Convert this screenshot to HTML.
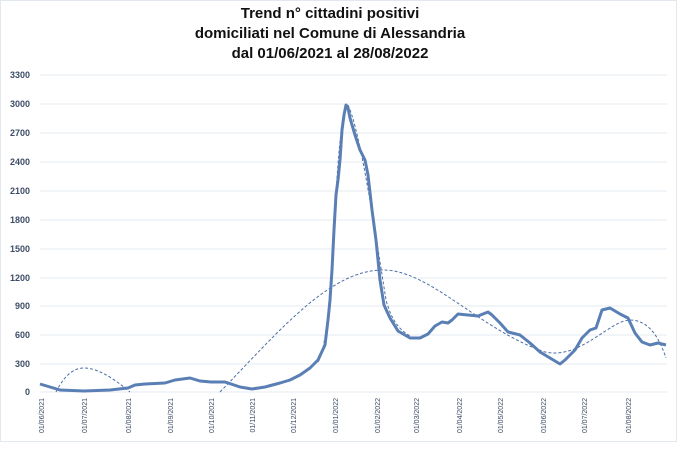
<!DOCTYPE html>
<html><head><meta charset="utf-8"><style>
body{margin:0;background:#fff;width:680px;height:447px;overflow:hidden;font-family:"Liberation Sans",sans-serif}
</style></head><body>
<svg width="680" height="447" xmlns="http://www.w3.org/2000/svg">
<rect x="0.5" y="0.5" width="676" height="441" fill="#fff" stroke="#e3e8ef"/>
<g font-weight="bold" font-size="15" fill="#111" text-anchor="middle">
<text x="330" y="18">Trend n° cittadini positivi</text>
<text x="330" y="38">domiciliati nel Comune di Alessandria</text>
<text x="330" y="58">dal 01/06/2021 al 28/08/2022</text>
</g>
<g stroke="#e6ebf2" stroke-width="1">
<line x1="40" x2="667" y1="75" y2="75"/><line x1="40" x2="667" y1="104" y2="104"/>
<line x1="40" x2="667" y1="133" y2="133"/><line x1="40" x2="667" y1="162" y2="162"/>
<line x1="40" x2="667" y1="191" y2="191"/><line x1="40" x2="667" y1="220" y2="220"/>
<line x1="40" x2="667" y1="249" y2="249"/><line x1="40" x2="667" y1="278" y2="278"/>
<line x1="40" x2="667" y1="306" y2="306"/><line x1="40" x2="667" y1="335" y2="335"/>
<line x1="40" x2="667" y1="364" y2="364"/><line x1="40" x2="667" y1="392" y2="392"/>
</g>
<g font-size="9" font-weight="bold" fill="#3d4c66" text-anchor="end">
<text x="30" y="78">3300</text><text x="30" y="107">3000</text><text x="30" y="136">2700</text>
<text x="30" y="165">2400</text><text x="30" y="194">2100</text><text x="30" y="223">1800</text>
<text x="30" y="252">1500</text><text x="30" y="281">1200</text><text x="30" y="309">900</text>
<text x="30" y="338">600</text><text x="30" y="367">300</text><text x="30" y="395">0</text>
</g>
<g font-size="7" fill="#3d4c66" text-anchor="end">
<text transform="translate(44,398) rotate(-90)">01/06/2021</text>
<text transform="translate(87,398) rotate(-90)">01/07/2021</text>
<text transform="translate(131,398) rotate(-90)">01/08/2021</text>
<text transform="translate(173,398) rotate(-90)">01/09/2021</text>
<text transform="translate(214,398) rotate(-90)">01/10/2021</text>
<text transform="translate(255,398) rotate(-90)">01/11/2021</text>
<text transform="translate(296,398) rotate(-90)">01/12/2021</text>
<text transform="translate(338,398) rotate(-90)">01/01/2022</text>
<text transform="translate(380,398) rotate(-90)">01/02/2022</text>
<text transform="translate(419,398) rotate(-90)">01/03/2022</text>
<text transform="translate(462,398) rotate(-90)">01/04/2022</text>
<text transform="translate(503,398) rotate(-90)">01/05/2022</text>
<text transform="translate(546,398) rotate(-90)">01/06/2022</text>
<text transform="translate(587,398) rotate(-90)">01/07/2022</text>
<text transform="translate(631,398) rotate(-90)">01/08/2022</text>
</g>
<g fill="none" stroke="#4a6fa5" stroke-width="1" stroke-dasharray="3,2">
<path d="M56,392 C66,372 76,368 84,368 C100,368 118,382 130,392"/>
<path d="M220,392 C280,330 330,270 383,270 C430,270 480,330 545,352 C580,360 610,320 630,320 C650,320 660,340 666,358"/>
<path d="M318,362 C326,350 330,300 334,230 C338,150 342,110 348,105 C360,130 375,230 386,300 C392,322 400,330 410,336"/>
</g>
<path fill="none" stroke="#5a7fb5" stroke-width="3" stroke-linejoin="round" d="M40,384 L50,387 L60,390 L84,391 L110,390 L128,388 L135,385 L145,384 L165,383 L175,380 L190,378 L200,381 L211,382 L225,382 L240,387 L252,389 L265,387 L280,383 L290,380 L300,375 L310,368 L318,360 L325,345 L328,320 L330,300 L332,270 L334,230 L336,195 L338,180 L340,160 L342,130 L344,115 L346,105 L348,108 L350,118 L355,135 L360,150 L365,160 L368,175 L372,210 L376,240 L380,280 L384,305 L390,318 L398,331 L410,338 L420,338 L428,334 L435,326 L442,322 L448,323 L452,320 L458,314 L468,315 L478,316 L488,312 L492,315 L500,323 L508,332 L520,335 L530,343 L540,352 L550,358 L560,364 L565,360 L575,350 L582,338 L590,330 L596,328 L602,310 L610,308 L620,314 L628,318 L635,333 L642,342 L650,345 L658,343 L666,345"/>
</svg>
</body></html>
